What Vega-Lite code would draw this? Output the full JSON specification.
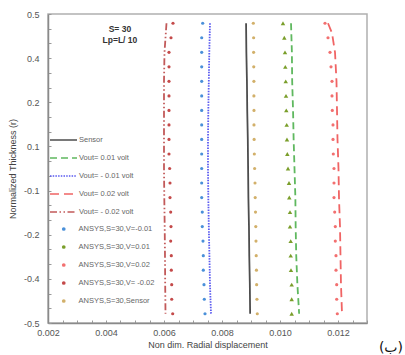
{
  "$schema": "https://vega.github.io/schema/vega-lite/v6.json",
  "width": 319,
  "height": 309,
  "autosize": "none",
  "padding": {"left": 48, "top": 14, "right": 38, "bottom": 32},
  "background": "white",
  "title": {"text": "(ب)", "orient": "bottom", "anchor": "end", "frame": "group", "fontSize": 14, "fontWeight": "normal", "color": "#111", "font": "DejaVu Sans", "dx": 36, "dy": -12},
  "config": {
    "font": "Liberation Sans",
    "view": {"stroke": "#b0b0b0", "strokeWidth": 1.5},
    "axis": {"grid": false, "domainColor": "#8a8a8a", "domainWidth": 1.5, "tickColor": "#9a9a9a", "labelColor": "#555", "titleColor": "#444", "labelFontSize": 9, "titleFontSize": 9, "titleFontWeight": "normal", "labelFlush": false, "labelOverlap": false},
    "legend": {"labelColor": "#666", "labelFontSize": 7.5, "padding": 0, "rowPadding": 0}
  },
  "datasets": {
    "lines": [
      {"series": "Sensor", "r": 0.47, "u": 0.00883},
      {"series": "Sensor", "r": 0.376, "u": 0.00884},
      {"series": "Sensor", "r": 0.282, "u": 0.00886},
      {"series": "Sensor", "r": 0.188, "u": 0.00887},
      {"series": "Sensor", "r": 0.094, "u": 0.00889},
      {"series": "Sensor", "r": 0, "u": 0.0089},
      {"series": "Sensor", "r": -0.094, "u": 0.00891},
      {"series": "Sensor", "r": -0.188, "u": 0.00893},
      {"series": "Sensor", "r": -0.282, "u": 0.00894},
      {"series": "Sensor", "r": -0.376, "u": 0.00896},
      {"series": "Sensor", "r": -0.47, "u": 0.00897},
      {"series": "Vout= 0.01 volt", "r": 0.47, "u": 0.01038},
      {"series": "Vout= 0.01 volt", "r": 0.376, "u": 0.01041},
      {"series": "Vout= 0.01 volt", "r": 0.282, "u": 0.01042},
      {"series": "Vout= 0.01 volt", "r": 0.188, "u": 0.01045},
      {"series": "Vout= 0.01 volt", "r": 0.094, "u": 0.01047},
      {"series": "Vout= 0.01 volt", "r": 0, "u": 0.0105},
      {"series": "Vout= 0.01 volt", "r": -0.094, "u": 0.01053},
      {"series": "Vout= 0.01 volt", "r": -0.188, "u": 0.01054},
      {"series": "Vout= 0.01 volt", "r": -0.282, "u": 0.01056},
      {"series": "Vout= 0.01 volt", "r": -0.376, "u": 0.0106},
      {"series": "Vout= 0.01 volt", "r": -0.47, "u": 0.01066},
      {"series": "Vout= - 0.01 volt", "r": 0.47, "u": 0.007586},
      {"series": "Vout= - 0.01 volt", "r": 0.376, "u": 0.007562},
      {"series": "Vout= - 0.01 volt", "r": 0.282, "u": 0.007545},
      {"series": "Vout= - 0.01 volt", "r": 0.188, "u": 0.007528},
      {"series": "Vout= - 0.01 volt", "r": 0.094, "u": 0.007517},
      {"series": "Vout= - 0.01 volt", "r": 0, "u": 0.007517},
      {"series": "Vout= - 0.01 volt", "r": -0.094, "u": 0.007528},
      {"series": "Vout= - 0.01 volt", "r": -0.188, "u": 0.007545},
      {"series": "Vout= - 0.01 volt", "r": -0.282, "u": 0.007566},
      {"series": "Vout= - 0.01 volt", "r": -0.376, "u": 0.007586},
      {"series": "Vout= - 0.01 volt", "r": -0.47, "u": 0.00762},
      {"series": "Vout= 0.02 volt", "r": 0.47, "u": 0.011655},
      {"series": "Vout= 0.02 volt", "r": 0.4385, "u": 0.011793},
      {"series": "Vout= 0.02 volt", "r": 0.376, "u": 0.011897},
      {"series": "Vout= 0.02 volt", "r": 0.282, "u": 0.011948},
      {"series": "Vout= 0.02 volt", "r": 0.188, "u": 0.011966},
      {"series": "Vout= 0.02 volt", "r": 0.094, "u": 0.011983},
      {"series": "Vout= 0.02 volt", "r": 0, "u": 0.012017},
      {"series": "Vout= 0.02 volt", "r": -0.094, "u": 0.012034},
      {"series": "Vout= 0.02 volt", "r": -0.188, "u": 0.012069},
      {"series": "Vout= 0.02 volt", "r": -0.282, "u": 0.012086},
      {"series": "Vout= 0.02 volt", "r": -0.376, "u": 0.012103},
      {"series": "Vout= 0.02 volt", "r": -0.47, "u": 0.012138},
      {"series": "Vout= - 0.02 volt", "r": 0.47, "u": 0.006086},
      {"series": "Vout= - 0.02 volt", "r": 0.376, "u": 0.006017},
      {"series": "Vout= - 0.02 volt", "r": 0.282, "u": 0.006},
      {"series": "Vout= - 0.02 volt", "r": 0.188, "u": 0.006},
      {"series": "Vout= - 0.02 volt", "r": 0.094, "u": 0.006},
      {"series": "Vout= - 0.02 volt", "r": 0, "u": 0.006},
      {"series": "Vout= - 0.02 volt", "r": -0.094, "u": 0.00601},
      {"series": "Vout= - 0.02 volt", "r": -0.188, "u": 0.006024},
      {"series": "Vout= - 0.02 volt", "r": -0.282, "u": 0.006034},
      {"series": "Vout= - 0.02 volt", "r": -0.376, "u": 0.006041},
      {"series": "Vout= - 0.02 volt", "r": -0.47, "u": 0.006052}
    ],
    "triangles": [
      {"series": "ANSYS,S=30,V=0.01", "r": 0.47, "u": 0.010103},
      {"series": "ANSYS,S=30,V=0.01", "r": 0.423, "u": 0.010148},
      {"series": "ANSYS,S=30,V=0.01", "r": 0.376, "u": 0.010172},
      {"series": "ANSYS,S=30,V=0.01", "r": 0.329, "u": 0.010183},
      {"series": "ANSYS,S=30,V=0.01", "r": 0.282, "u": 0.010197},
      {"series": "ANSYS,S=30,V=0.01", "r": 0.235, "u": 0.010207},
      {"series": "ANSYS,S=30,V=0.01", "r": 0.188, "u": 0.010217},
      {"series": "ANSYS,S=30,V=0.01", "r": 0.141, "u": 0.010231},
      {"series": "ANSYS,S=30,V=0.01", "r": 0.094, "u": 0.010241},
      {"series": "ANSYS,S=30,V=0.01", "r": 0.047, "u": 0.010252},
      {"series": "ANSYS,S=30,V=0.01", "r": 0, "u": 0.010276},
      {"series": "ANSYS,S=30,V=0.01", "r": -0.047, "u": 0.01031},
      {"series": "ANSYS,S=30,V=0.01", "r": -0.094, "u": 0.010321},
      {"series": "ANSYS,S=30,V=0.01", "r": -0.141, "u": 0.010345},
      {"series": "ANSYS,S=30,V=0.01", "r": -0.188, "u": 0.010345},
      {"series": "ANSYS,S=30,V=0.01", "r": -0.235, "u": 0.010369},
      {"series": "ANSYS,S=30,V=0.01", "r": -0.282, "u": 0.010369},
      {"series": "ANSYS,S=30,V=0.01", "r": -0.329, "u": 0.010379},
      {"series": "ANSYS,S=30,V=0.01", "r": -0.376, "u": 0.010403},
      {"series": "ANSYS,S=30,V=0.01", "r": -0.423, "u": 0.010403},
      {"series": "ANSYS,S=30,V=0.01", "r": -0.47, "u": 0.010403}
    ],
    "circles": [
      {"series": "ANSYS,S=30,V=-0.01", "r": 0.47, "u": 0.007334},
      {"series": "ANSYS,S=30,V=-0.01", "r": 0.423, "u": 0.0073},
      {"series": "ANSYS,S=30,V=-0.01", "r": 0.376, "u": 0.0073},
      {"series": "ANSYS,S=30,V=-0.01", "r": 0.329, "u": 0.0073},
      {"series": "ANSYS,S=30,V=-0.01", "r": 0.282, "u": 0.0073},
      {"series": "ANSYS,S=30,V=-0.01", "r": 0.235, "u": 0.0073},
      {"series": "ANSYS,S=30,V=-0.01", "r": 0.188, "u": 0.0073},
      {"series": "ANSYS,S=30,V=-0.01", "r": 0.141, "u": 0.0073},
      {"series": "ANSYS,S=30,V=-0.01", "r": 0.094, "u": 0.0073},
      {"series": "ANSYS,S=30,V=-0.01", "r": 0.047, "u": 0.0073},
      {"series": "ANSYS,S=30,V=-0.01", "r": 0, "u": 0.0073},
      {"series": "ANSYS,S=30,V=-0.01", "r": -0.047, "u": 0.0073},
      {"series": "ANSYS,S=30,V=-0.01", "r": -0.094, "u": 0.0073},
      {"series": "ANSYS,S=30,V=-0.01", "r": -0.141, "u": 0.00732},
      {"series": "ANSYS,S=30,V=-0.01", "r": -0.188, "u": 0.00732},
      {"series": "ANSYS,S=30,V=-0.01", "r": -0.235, "u": 0.007345},
      {"series": "ANSYS,S=30,V=-0.01", "r": -0.282, "u": 0.007355},
      {"series": "ANSYS,S=30,V=-0.01", "r": -0.329, "u": 0.007355},
      {"series": "ANSYS,S=30,V=-0.01", "r": -0.376, "u": 0.007379},
      {"series": "ANSYS,S=30,V=-0.01", "r": -0.423, "u": 0.00739},
      {"series": "ANSYS,S=30,V=-0.01", "r": -0.47, "u": 0.007414},
      {"series": "ANSYS,S=30,V=0.02", "r": 0.47, "u": 0.011552},
      {"series": "ANSYS,S=30,V=0.02", "r": 0.423, "u": 0.011655},
      {"series": "ANSYS,S=30,V=0.02", "r": 0.376, "u": 0.011724},
      {"series": "ANSYS,S=30,V=0.02", "r": 0.329, "u": 0.011759},
      {"series": "ANSYS,S=30,V=0.02", "r": 0.282, "u": 0.011793},
      {"series": "ANSYS,S=30,V=0.02", "r": 0.235, "u": 0.011793},
      {"series": "ANSYS,S=30,V=0.02", "r": 0.188, "u": 0.011803},
      {"series": "ANSYS,S=30,V=0.02", "r": 0.141, "u": 0.011828},
      {"series": "ANSYS,S=30,V=0.02", "r": 0.094, "u": 0.011828},
      {"series": "ANSYS,S=30,V=0.02", "r": 0.047, "u": 0.011838},
      {"series": "ANSYS,S=30,V=0.02", "r": 0, "u": 0.011862},
      {"series": "ANSYS,S=30,V=0.02", "r": -0.047, "u": 0.011862},
      {"series": "ANSYS,S=30,V=0.02", "r": -0.094, "u": 0.011862},
      {"series": "ANSYS,S=30,V=0.02", "r": -0.141, "u": 0.011886},
      {"series": "ANSYS,S=30,V=0.02", "r": -0.188, "u": 0.011907},
      {"series": "ANSYS,S=30,V=0.02", "r": -0.235, "u": 0.011907},
      {"series": "ANSYS,S=30,V=0.02", "r": -0.282, "u": 0.011931},
      {"series": "ANSYS,S=30,V=0.02", "r": -0.329, "u": 0.011931},
      {"series": "ANSYS,S=30,V=0.02", "r": -0.376, "u": 0.011955},
      {"series": "ANSYS,S=30,V=0.02", "r": -0.423, "u": 0.011955},
      {"series": "ANSYS,S=30,V=0.02", "r": -0.47, "u": 0.011976},
      {"series": "ANSYS,S=30,V= -0.02", "r": 0.47, "u": 0.00631},
      {"series": "ANSYS,S=30,V= -0.02", "r": 0.423, "u": 0.006241},
      {"series": "ANSYS,S=30,V= -0.02", "r": 0.376, "u": 0.006172},
      {"series": "ANSYS,S=30,V= -0.02", "r": 0.329, "u": 0.006172},
      {"series": "ANSYS,S=30,V= -0.02", "r": 0.282, "u": 0.006172},
      {"series": "ANSYS,S=30,V= -0.02", "r": 0.235, "u": 0.006172},
      {"series": "ANSYS,S=30,V= -0.02", "r": 0.188, "u": 0.006172},
      {"series": "ANSYS,S=30,V= -0.02", "r": 0.141, "u": 0.006172},
      {"series": "ANSYS,S=30,V= -0.02", "r": 0.094, "u": 0.006172},
      {"series": "ANSYS,S=30,V= -0.02", "r": 0.047, "u": 0.006172},
      {"series": "ANSYS,S=30,V= -0.02", "r": 0, "u": 0.006195},
      {"series": "ANSYS,S=30,V= -0.02", "r": -0.047, "u": 0.006207},
      {"series": "ANSYS,S=30,V= -0.02", "r": -0.094, "u": 0.006207},
      {"series": "ANSYS,S=30,V= -0.02", "r": -0.141, "u": 0.006231},
      {"series": "ANSYS,S=30,V= -0.02", "r": -0.188, "u": 0.006241},
      {"series": "ANSYS,S=30,V= -0.02", "r": -0.235, "u": 0.006231},
      {"series": "ANSYS,S=30,V= -0.02", "r": -0.282, "u": 0.006252},
      {"series": "ANSYS,S=30,V= -0.02", "r": -0.329, "u": 0.006252},
      {"series": "ANSYS,S=30,V= -0.02", "r": -0.376, "u": 0.006266},
      {"series": "ANSYS,S=30,V= -0.02", "r": -0.423, "u": 0.006266},
      {"series": "ANSYS,S=30,V= -0.02", "r": -0.47, "u": 0.0063},
      {"series": "ANSYS,S=30,Sensor", "r": 0.47, "u": 0.00908},
      {"series": "ANSYS,S=30,Sensor", "r": 0.423, "u": 0.00909},
      {"series": "ANSYS,S=30,Sensor", "r": 0.376, "u": 0.00909},
      {"series": "ANSYS,S=30,Sensor", "r": 0.329, "u": 0.009095},
      {"series": "ANSYS,S=30,Sensor", "r": 0.282, "u": 0.0091},
      {"series": "ANSYS,S=30,Sensor", "r": 0.235, "u": 0.0091},
      {"series": "ANSYS,S=30,Sensor", "r": 0.188, "u": 0.009103},
      {"series": "ANSYS,S=30,Sensor", "r": 0.141, "u": 0.009103},
      {"series": "ANSYS,S=30,Sensor", "r": 0.094, "u": 0.009108},
      {"series": "ANSYS,S=30,Sensor", "r": 0.047, "u": 0.009115},
      {"series": "ANSYS,S=30,Sensor", "r": 0, "u": 0.009125},
      {"series": "ANSYS,S=30,Sensor", "r": -0.047, "u": 0.009138},
      {"series": "ANSYS,S=30,Sensor", "r": -0.094, "u": 0.009145},
      {"series": "ANSYS,S=30,Sensor", "r": -0.141, "u": 0.009155},
      {"series": "ANSYS,S=30,Sensor", "r": -0.188, "u": 0.009165},
      {"series": "ANSYS,S=30,Sensor", "r": -0.235, "u": 0.009172},
      {"series": "ANSYS,S=30,Sensor", "r": -0.282, "u": 0.00918},
      {"series": "ANSYS,S=30,Sensor", "r": -0.329, "u": 0.009188},
      {"series": "ANSYS,S=30,Sensor", "r": -0.376, "u": 0.009195},
      {"series": "ANSYS,S=30,Sensor", "r": -0.423, "u": 0.009205},
      {"series": "ANSYS,S=30,Sensor", "r": -0.47, "u": 0.009217}
    ],
    "note": [{"label": "S= 30\nLp=L/ 10"}]
  },
  "layer": [
    {
      "encoding": {
        "x": {"field": "u", "type": "quantitative", "title": "Non dim. Radial displacement",
          "scale": {"domain": [0.002, 0.013], "nice": false, "zero": false},
          "axis": {"values": [0.002, 0.0025, 0.003, 0.0035, 0.004, 0.0045, 0.005, 0.0055, 0.006, 0.0065, 0.007, 0.0075, 0.008, 0.0085, 0.009, 0.0095, 0.01, 0.0105, 0.011, 0.0115, 0.012, 0.0125, 0.013],
            "labelExpr": "(round(datum.value*2000) % 4 == 0 && datum.value < 0.0125) ? format(datum.value, '.3f') : ''",
            "tickSize": -3, "labelPadding": 8, "titlePadding": 3}},
        "y": {"field": "r", "type": "quantitative", "title": "Normalized Thickness (r)",
          "scale": {"domain": [-0.5, 0.5], "nice": false},
          "axis": {"values": [0.5, 0.452381, 0.404762, 0.357143, 0.309524, 0.261905, 0.214286, 0.166667, 0.119048, 0.071429, 0.02381, -0.02381, -0.071429, -0.119048, -0.166667, -0.214286, -0.261905, -0.309524, -0.357143, -0.404762, -0.452381, -0.5],
            "labelExpr": "(round((0.5-datum.value)*21) % 3 == 0) ? ['0.5','0.4','0.2','0.1','-0.1','-0.2','-0.4','-0.5'][round((0.5-datum.value)*7)] : ''",
            "tickSize": -3, "labelPadding": 12, "titlePadding": 6}}
      },
      "layer": [
        {
          "data": {"name": "lines"},
          "mark": {"type": "line", "strokeWidth": 1.8},
          "encoding": {
            "order": {"field": "r", "sort": "descending"},
            "stroke": {"field": "series", "type": "nominal",
              "scale": {"domain": ["Sensor", "Vout= 0.01 volt", "Vout= - 0.01 volt", "Vout= 0.02 volt", "Vout= - 0.02 volt"],
                "range": ["#4d4d4d", "#5fb85f", "#5a5af0", "#f06464", "#c25a5a"]},
              "legend": {"title": null, "orient": "none", "legendX": 1, "legendY": 117, "symbolType": "stroke", "symbolSize": 729, "symbolStrokeWidth": 1.6, "clipHeight": 18, "labelOffset": 1}},
            "strokeDash": {"field": "series", "type": "nominal",
              "scale": {"domain": ["Sensor", "Vout= 0.01 volt", "Vout= - 0.01 volt", "Vout= 0.02 volt", "Vout= - 0.02 volt"],
                "range": [[1, 0], [7, 4], [1.5, 1.2], [9, 5], [7, 2.5, 1.5, 2.5, 1.5, 2.5]]},
              "legend": {"title": null, "orient": "none", "legendX": 1, "legendY": 117, "symbolType": "stroke", "symbolSize": 729, "symbolStrokeWidth": 1.6, "clipHeight": 18, "labelOffset": 1}}
          }
        },
        {
          "data": {"name": "circles"},
          "mark": {"type": "point", "shape": "circle", "filled": true, "opacity": 1, "size": 10},
          "encoding": {
            "fill": {"field": "series", "type": "nominal",
              "scale": {"domain": ["ANSYS,S=30,V=-0.01", "ANSYS,S=30,V=0.01", "ANSYS,S=30,V=0.02", "ANSYS,S=30,V= -0.02", "ANSYS,S=30,Sensor"],
                "range": ["#4a90d9", "#7a9e2a", "#f27070", "#c44a4a", "#d2b06a"]},
              "legend": {"title": null, "orient": "none", "legendX": 12, "legendY": 206, "symbolType": "circle", "symbolSize": 14, "clipHeight": 18, "labelOffset": 11}}
          }
        },
        {
          "data": {"name": "triangles"},
          "mark": {"type": "point", "shape": "triangle-up", "filled": true, "opacity": 1, "size": 20},
          "encoding": {
            "fill": {"field": "series", "type": "nominal"}
          }
        }
      ]
    },
    {
      "data": {"name": "note"},
      "mark": {"type": "text", "lineBreak": "\n", "fontSize": 8.5, "fontWeight": "bold", "color": "#333", "align": "center", "baseline": "middle", "lineHeight": 11},
      "encoding": {
        "x": {"datum": 0.00448, "type": "quantitative", "title": "Non dim. Radial displacement",
          "scale": {"domain": [0.002, 0.013], "nice": false, "zero": false},
          "axis": {"values": [0.002, 0.0025, 0.003, 0.0035, 0.004, 0.0045, 0.005, 0.0055, 0.006, 0.0065, 0.007, 0.0075, 0.008, 0.0085, 0.009, 0.0095, 0.01, 0.0105, 0.011, 0.0115, 0.012, 0.0125, 0.013],
            "labelExpr": "(round(datum.value*2000) % 4 == 0 && datum.value < 0.0125) ? format(datum.value, '.3f') : ''",
            "tickSize": -3, "labelPadding": 8, "titlePadding": 3}},
        "y": {"datum": 0.4515, "type": "quantitative", "title": "Normalized Thickness (r)",
          "scale": {"domain": [-0.5, 0.5], "nice": false},
          "axis": {"values": [0.5, 0.452381, 0.404762, 0.357143, 0.309524, 0.261905, 0.214286, 0.166667, 0.119048, 0.071429, 0.02381, -0.02381, -0.071429, -0.119048, -0.166667, -0.214286, -0.261905, -0.309524, -0.357143, -0.404762, -0.452381, -0.5],
            "labelExpr": "(round((0.5-datum.value)*21) % 3 == 0) ? ['0.5','0.4','0.2','0.1','-0.1','-0.2','-0.4','-0.5'][round((0.5-datum.value)*7)] : ''",
            "tickSize": -3, "labelPadding": 12, "titlePadding": 6}},
        "text": {"field": "label", "type": "nominal"}
      }
    }
  ]
}
